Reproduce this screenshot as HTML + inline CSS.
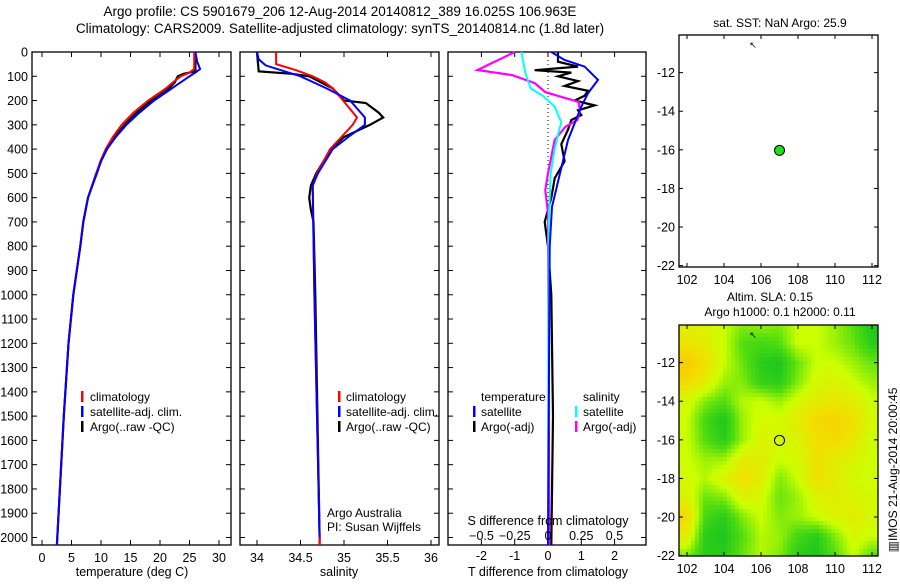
<!DOCTYPE html>
<html><head><meta charset="utf-8"><style>
body{margin:0;background:#fff;}
svg text{font-family:"Liberation Sans",sans-serif;fill:#000;}
</style></head><body>
<svg id="c" width="900" height="580" xmlns="http://www.w3.org/2000/svg">
<text x="340" y="16" font-size="13.5" text-anchor="middle">Argo profile: CS 5901679_206 12-Aug-2014 20140812_389 16.025S 106.963E</text>
<text x="340" y="33" font-size="13.5" text-anchor="middle">Climatology: CARS2009. Satellite-adjusted climatology: synTS_20140814.nc (1.8d later)</text>
<text x="780" y="27" font-size="12" text-anchor="middle">sat. SST: NaN Argo: 25.9</text>
<text x="770" y="301" font-size="12" text-anchor="middle">Altim. SLA: 0.15</text>
<text x="780" y="316" font-size="12" text-anchor="middle">Argo h1000: 0.1 h2000: 0.11</text>
<text transform="translate(897,470) rotate(-90)" font-size="12" text-anchor="middle">▥IMOS 21-Aug-2014 20:00:45</text>
</svg>
<script>
// ---- data ----
const tDepthRed=[0,70,85,100,125,150,175,200,250,300,350,400,450,500,600,700,800,900,1000,1200,1500,2000,2040];
const tRed=[25.8,25.8,25,23.5,22.2,21,19.5,18,15.5,13.5,12,10.8,9.9,9.2,7.8,7,6.5,5.9,5.3,4.5,3.7,2.6,2.5];
const tDepthBlue=[0,40,70,85,100,125,150,175,200,250,300,350,400,450,500,600,700,800,900,1000,1200,1500,2000,2040];
const tBlue=[26,26.3,26.8,26,25,23.5,22,20.5,19,16.5,14.3,12.5,11,10,9.3,7.8,7,6.5,5.9,5.3,4.5,3.7,2.6,2.5];
const tDepthArgo=[0,80,90,100,125,150,175,200,250,300,350,400,450,500,600,700,800,900,1000,1200,1500,2000,2030];
const tArgo=[26,26,24,23,22.5,21.5,20,18.5,16,14,12.3,11,10,9.2,7.8,7,6.5,5.9,5.3,4.5,3.7,2.6,2.55];
const sDepthRed=[0,50,75,100,125,150,200,270,300,350,400,500,550,1000,2000,2040];
const sRed=[34.22,34.22,34.45,34.64,34.78,34.87,34.99,35.15,35.1,34.97,34.84,34.69,34.64,34.66,34.72,34.72];
const sDepthBlue=[0,30,55,100,150,200,270,300,350,400,500,550,1000,2000];
const sBlue=[34.0,34.02,34.1,34.5,34.8,35.07,35.24,35.24,35.05,34.87,34.7,34.64,34.66,34.72];
const sDepthArgo=[0,80,90,100,150,200,210,250,270,300,350,400,500,550,600,650,700,1000,2000,2030];
const sArgo=[34.0,34.02,34.4,34.6,34.87,35.0,35.25,35.4,35.45,35.3,35.0,34.85,34.68,34.62,34.6,34.62,34.65,34.67,34.72,34.72];
const dDepthTSat=[0,33,60,115,170,225,294,363,500,638,800,2040];
const dTSat=[0.1,0.5,1.1,1.5,1.2,1.0,0.8,0.6,0.36,0.12,0.05,0];
const dDepthTArgo=[0,40,60,75,85,100,120,140,160,180,200,220,240,260,280,320,380,450,520,600,700,800,1000,1500,2030];
const dTArgo=[0.3,0.3,0.9,-0.4,0.7,0.3,0.9,0.5,1.2,1.1,0.8,1.4,0.9,1.0,0.7,0.6,0.4,0.5,0.2,0.1,-0.1,0,0.1,0.15,0.1];
const dDepthSSat=[0,88,150,180,225,290,330,400,500,700,2040];
const dSSat=[-0.2,-0.17,-0.13,-0.04,0.05,0.1,0.08,0.05,0.02,0.005,0];
const dDepthSArgo=[0,53,74,95,128,165,206,240,280,308,363,500,569,664,2030];
const dSArgo=[-0.25,-0.45,-0.53,-0.27,-0.1,-0.02,0.23,0.24,0.22,0.13,0.05,0,-0.02,0,0.01];
const slaLons=[102,103,104,105,106,107,108,109,110,111,112];
const slaLats=[-10,-11,-12,-13,-14,-15,-16,-17,-18,-19,-20,-21,-22];
const slaGrid=[
[0.3,0.2,0,-0.3,-0.2,-0.3,0,0,-0.2,-0.5,-0.9],
[0.4,0.3,0,-0.5,-0.6,-0.5,0,0,-0.2,-0.4,-0.8],
[0.8,0.5,0,-0.4,-0.8,-0.9,-0.4,0,0,-0.2,-0.4],
[0.6,0.3,-0.2,-0.3,-0.7,-0.8,-0.3,0.1,0.2,0,-0.2],
[0.1,-0.3,-0.5,-0.1,0,-0.2,0.1,0.3,0.4,0.3,0],
[0,-0.6,-0.9,-0.2,0.1,0.1,0.3,0.6,0.7,0.5,0.1],
[0,-0.5,-0.8,-0.2,0.2,0.1,0.2,0.5,0.6,0.4,0],
[0,-0.2,-0.2,0.3,0.3,0,0.1,0.5,0.3,0.2,0],
[0.1,-0.1,0.2,0.5,0.3,-0.3,0,0.5,0.3,0.1,0],
[0.2,-0.4,-0.3,0.2,0.1,-0.4,-0.2,0.2,0.3,0.2,0.1],
[0.6,-0.6,-0.8,-0.3,0,-0.3,-0.2,0,0.2,0.3,0.1],
[0.3,-0.8,-0.9,-0.5,-0.1,-0.2,-0.6,-0.8,-0.3,0.1,0],
[-0.3,-0.8,-0.8,-0.4,-0.1,-0.3,-0.8,-0.9,-0.5,0,-0.5]];
const floatLon=107, floatLat=-16.03;
const depthTicks=[0,100,200,300,400,500,600,700,800,900,1000,1100,1200,1300,1400,1500,1600,1700,1800,1900,2000];
const tempTicks=[0,5,10,15,20,25,30];
const salTicks=[34,34.5,35,35.5,36];
const tdTicks=[-2,-1,0,1,2];
const sdTicks=[-0.5,-0.25,0,0.25,0.5];
const latTicks=[-12,-14,-16,-18,-20,-22];
const lonTicks=[102,104,106,108,110,112];

// ---- helpers ----
const svg=document.getElementById('c');
const NS='http://www.w3.org/2000/svg';
function mk(tag,attrs,parent){const e=document.createElementNS(NS,tag);for(const k in attrs)e.setAttribute(k,attrs[k]);(parent||svg).appendChild(e);return e;}
function txt(x,y,s,size,anchor,name,parent){const t=mk('text',{x:x,y:y,'font-size':size,'text-anchor':anchor},parent);t.textContent=s;


return t;}
const Y0=52, PXM=0.24275, PTOP=52, PBOT=545;
const yD=d=>Y0+d*PXM;
function frame(x0,x1,y0,y1,name){const r=mk('rect',{x:x0,y:y0,width:x1-x0,height:y1-y0,fill:'none',stroke:'#000','stroke-width':1.3});


return r;}
function line(depths,vals,xf,color,w,name){const g=mk('polyline',{points:depths.map((d,i)=>xf(vals[i]).toFixed(1)+','+Math.min(PBOT,yD(d)).toFixed(1)).join(' '),fill:'none',stroke:color,'stroke-width':w,'stroke-linejoin':'miter'});

}
function depthAxis(x0,x1,labels){depthTicks.forEach(d=>{const y=yD(d);mk('line',{x1:x0,x2:x0+5,y1:y,y2:y,stroke:'#000'});mk('line',{x1:x1,x2:x1-5,y1:y,y2:y,stroke:'#000'});
if(labels)txt(x0-4,y+4.5,String(d),12.5,'end','depth-tick-label');});}
function xTicks(vals,xf,y0,y1,labelY,fmt,name){vals.forEach(v=>{const x=xf(v);mk('line',{x1:x,x2:x,y1:y1,y2:y1-5,stroke:'#000'});mk('line',{x1:x,x2:x,y1:y0,y2:y0+5,stroke:'#000'});
if(labelY)txt(x,labelY,fmt(v),12.5,'middle',name);});}
function legBar(x,y,color,name){const r=mk('rect',{x:x,y:y-10,width:2.5,height:11,fill:color});

}

// ---- panel 1: temperature ----
const xT=v=>42+v*5.9;
frame(32,231,PTOP,PBOT,'temperature-panel');
depthAxis(32,231,true);
xTicks(tempTicks,xT,PTOP,PBOT,562,v=>String(v),'temp-tick-label');
line(tDepthArgo,tArgo,xT,'#000',2.2,'temp-argo-line');
line(tDepthRed,tRed,xT,'#f00',2,'temp-climatology-line');
line(tDepthBlue,tBlue,xT,'#00f',2,'temp-satellite-line');
txt(132,576,'temperature (deg C)',12.5,'middle','temperature-axis-title');
[['climatology','#f00'],['satellite-adj. clim.','#00f'],['Argo(..raw -QC)','#000']].forEach((l,i)=>{legBar(81,401+i*15,l[1],'temp-legend-marker');txt(90,401+i*15,l[0],12,'start','temp-legend-entry');});

// ---- panel 2: salinity ----
const xS=v=>257+(v-34)*87;
frame(240,439,PTOP,PBOT,'salinity-panel');
depthAxis(240,439,false);
xTicks(salTicks,xS,PTOP,PBOT,562,v=>String(v),'sal-tick-label');
line(sDepthArgo,sArgo,xS,'#000',2.2,'sal-argo-line');
line(sDepthRed,sRed,xS,'#f00',2,'sal-climatology-line');
line(sDepthBlue,sBlue,xS,'#00f',2,'sal-satellite-line');
txt(339,576,'salinity',12.5,'middle','salinity-axis-title');
[['climatology','#f00'],['satellite-adj. clim.','#00f'],['Argo(..raw -QC)','#000']].forEach((l,i)=>{legBar(338,401+i*15,l[1],'sal-legend-marker');txt(346,401+i*15,l[0],12,'start','sal-legend-entry');});
txt(327,517,'Argo Australia',12,'start','institution-label');
txt(327,531,'PI: Susan Wijffels',12,'start','pi-label');

// ---- panel 3: differences ----
const xdT=v=>548+v*33.3;
const xdS=v=>548+v*133;
frame(448,646,PTOP,PBOT,'difference-panel');
mk('line',{x1:548,x2:548,y1:PTOP,y2:250,stroke:'#000','stroke-dasharray':'1,3'});
depthAxis(448,646,false);
xTicks(tdTicks,xdT,PTOP,PBOT,560,v=>String(v),'tdiff-tick-label');
line(dDepthTArgo,dTArgo,xdT,'#000',2.2,'tdiff-argo-line');
line(dDepthSArgo,dSArgo,xdS,'#f0f',2.2,'sdiff-argo-line');
line(dDepthSSat,dSSat,xdS,'#0ff',2,'sdiff-satellite-line');
line(dDepthTSat,dTSat,xdT,'#00f',2,'tdiff-satellite-line');
sdTicks.forEach(v=>txt(xdS(v),540,String(v).replace('-','−'),12.5,'middle','sdiff-tick-label'));
txt(548,525,'S difference from climatology',12.5,'middle','sdiff-axis-title');
txt(548,576,'T difference from climatology',12.5,'middle','tdiff-axis-title');
txt(481,401,'temperature',12,'start','temp-diff-legend-header');
txt(583,401,'salinity',12,'start','sal-diff-legend-header');
legBar(473,416,'#00f','tdiff-sat-legend-marker');txt(481,416,'satellite',12,'start','tdiff-sat-legend-entry');
legBar(473,431,'#000','tdiff-argo-legend-marker');txt(481,431,'Argo(-adj)',12,'start','tdiff-argo-legend-entry');
legBar(575,416,'#0ff','sdiff-sat-legend-marker');txt(583,416,'satellite',12,'start','sdiff-sat-legend-entry');
legBar(575,431,'#f0f','sdiff-argo-legend-marker');txt(583,431,'Argo(-adj)',12,'start','sdiff-argo-legend-entry');

// ---- maps ----
const lonX=v=>687+(v-102)*18.5;
function mapAxes(top,bottom,name){
  const latY=v=>top+(-10.05-v)*19.3;
  lonTicks.forEach(v=>{const x=lonX(v);mk('line',{x1:x,x2:x,y1:bottom,y2:bottom-4,stroke:'#000'});mk('line',{x1:x,x2:x,y1:top,y2:top+4,stroke:'#000'});txt(x,bottom+17,String(v),12.5,'middle','lon-tick-label');});
  latTicks.forEach(v=>{const y=latY(v);mk('line',{x1:679,x2:683,y1:y,y2:y,stroke:'#000'});mk('line',{x1:878,x2:874,y1:y,y2:y,stroke:'#000'});txt(675,y+4.5,String(v),12.5,'end','lat-tick-label');});
  frame(679,878,top,bottom,name);
  return latY;
}
const top2=325,bot2=556;
const latY2=v=>top2+(-10.05-v)*19.3;
function col(v){const stops=[[-1,[16,192,32]],[-0.5,[80,221,16]],[0,[204,255,0]],[0.5,[240,224,0]],[1,[255,192,0]]];
v=Math.max(-1,Math.min(1,v));for(let i=0;i<stops.length-1;i++){const a=stops[i],b=stops[i+1];if(v<=b[0]){const t=(v-a[0])/(b[0]-a[0]);return 'rgb('+a[1].map((c,k)=>Math.round(c+(b[1][k]-c)*t)).join(',')+')';}}return 'rgb(255,192,0)';}
function sla(lon,lat){let fi=(lon-slaLons[0]);let fj=(slaLats[0]-lat);fi=Math.max(0,Math.min(slaLons.length-1.001,fi));fj=Math.max(0,Math.min(slaLats.length-1.001,fj));
const i=Math.floor(fi),j=Math.floor(fj),a=fi-i,b=fj-j;
return slaGrid[j][i]*(1-a)*(1-b)+slaGrid[j][i+1]*a*(1-b)+slaGrid[j+1][i]*(1-a)*b+slaGrid[j+1][i+1]*a*b;}
const hm=mk('g',{});


const step=4;
for(let x=679;x<878;x+=step){for(let y=top2;y<bot2;y+=step){const lon=102+(x+step/2-687)/18.5;const lat=-10.05-(y+step/2-top2)/19.3;
const r=mk('rect',{x:x,y:y,width:Math.min(step,878-x)+0.3,height:Math.min(step,bot2-y)+0.3,fill:col(sla(lon,lat))},hm);

}}
const latY1=mapAxes(35,267,'sst-map');
mapAxes(top2,bot2,'sla-map');
const d1=mk('circle',{cx:lonX(floatLon),cy:latY1(floatLat),r:5,fill:'#22dd11',stroke:'#000','stroke-width':1});


const d2=mk('circle',{cx:lonX(floatLon),cy:latY2(floatLat),r:5,fill:'none',stroke:'#000','stroke-width':1});


[[44],[334]].forEach(p=>{const a=mk('text',{x:753,y:p[0]+4,'font-size':9,'text-anchor':'middle'});a.textContent='↖';

});
</script>
</body></html>
